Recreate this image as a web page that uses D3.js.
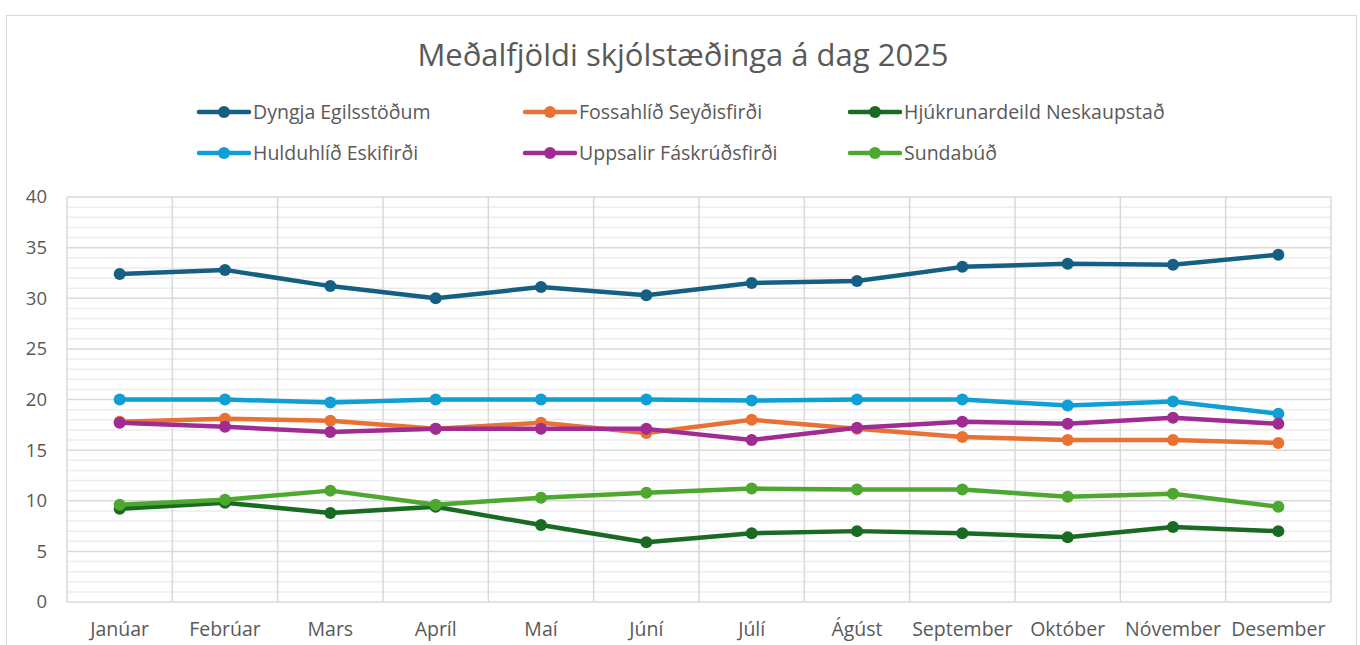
<!DOCTYPE html>
<html>
<head>
<meta charset="utf-8">
<script src="https://cdn.jsdelivr.net/npm/d3@7"></script>
<style>
    body { margin: 0; background: #fff; }
    svg { display: block; font-family: "Open Sans", sans-serif; }
</style>
</head>
<body>
<svg id="chart" width="1360" height="645"></svg>
<script>
// gögn
const months = ["Janúar", "Febrúar", "Mars", "Apríl", "Maí", "Júní", "Júlí", "Ágúst", "September", "Október", "Nóvember", "Desember"];
const seriesNames = ["Dyngja Egilsstöðum", "Fossahlíð Seyðisfirði", "Hjúkrunardeild Neskaupstað", "Hulduhlíð Eskifirði", "Uppsalir Fáskrúðsfirði", "Sundabúð"];
const seriesColors = ["#156082", "#e97132", "#196b24", "#0f9ed5", "#a02b93", "#4ea72e"];
const dyngja = [32.4, 32.8, 31.2, 30.0, 31.1, 30.3, 31.5, 31.7, 33.1, 33.4, 33.3, 34.3];
const fossahlid = [17.8, 18.1, 17.9, 17.1, 17.7, 16.7, 18.0, 17.1, 16.3, 16.0, 16.0, 15.7];
const hjukrunardeild = [9.2, 9.8, 8.8, 9.4, 7.6, 5.9, 6.8, 7.0, 6.8, 6.4, 7.4, 7.0];
const hulduhlid = [20.0, 20.0, 19.7, 20.0, 20.0, 20.0, 19.9, 20.0, 20.0, 19.4, 19.8, 18.6];
const uppsalir = [17.7, 17.3, 16.8, 17.1, 17.1, 17.1, 16.0, 17.2, 17.8, 17.6, 18.2, 17.6];
const sundabud = [9.6, 10.1, 11.0, 9.6, 10.3, 10.8, 11.2, 11.1, 11.1, 10.4, 10.7, 9.4];
const yTicks = [0, 5, 10, 15, 20, 25, 30, 35, 40];

const allValues = [dyngja, fossahlid, hjukrunardeild, hulduhlid, uppsalir, sundabud];

const svg = d3.select("#chart");
const TEXT_COLOR = "#595959";
const plot = { left: 67, right: 1331, top: 197, bottom: 602 };

// rammi
svg.append("rect")
    .attr("x", 6.5).attr("y", 15.5)
    .attr("width", 1350).attr("height", 650)
    .attr("fill", "#fff")
    .attr("stroke", "#d9d9d9")
    .attr("stroke-width", 1);

const x = d3.scaleBand().domain(months).range([plot.left, plot.right]).padding(0);
const y = d3.scaleLinear().domain([0, 40]).range([plot.bottom, plot.top]);

// minni hnitalínur
const g = svg.append("g");
g.selectAll("line.minor")
    .data(d3.range(0, 41).filter(v => v % 5 !== 0))
    .join("line")
    .attr("class", "minor")
    .attr("x1", plot.left).attr("x2", plot.right)
    .attr("y1", d => y(d)).attr("y2", d => y(d))
    .attr("stroke", "#ededed")
    .attr("stroke-width", 1.5);

// lóðréttar línur
g.selectAll("line.vert")
    .data(months.map(m => x(m)).concat([plot.right]))
    .join("line")
    .attr("class", "vert")
    .attr("x1", d => d).attr("x2", d => d)
    .attr("y1", plot.top).attr("y2", plot.bottom)
    .attr("stroke", "#d9d9d9")
    .attr("stroke-width", 1.5);

// aðal hnitalínur
g.selectAll("line.major")
    .data(yTicks)
    .join("line")
    .attr("class", "major")
    .attr("x1", plot.left).attr("x2", plot.right)
    .attr("y1", d => y(d)).attr("y2", d => y(d))
    .attr("stroke", "#d9d9d9")
    .attr("stroke-width", 1.5);

// y ás
const yAxis = svg.append("g")
    .attr("transform", `translate(${plot.left - 20},0)`)
    .call(d3.axisLeft(y).tickValues(yTicks).tickSize(0).tickPadding(0));
yAxis.select(".domain").remove();
yAxis.selectAll("text")
    .attr("fill", TEXT_COLOR)
    .attr("font-size", 18.5)
    .attr("font-family", "Open Sans, sans-serif");

// x ás
const xAxis = svg.append("g")
    .attr("transform", `translate(0,${plot.bottom + 20})`)
    .call(d3.axisBottom(x).tickSize(0).tickPadding(0));
xAxis.select(".domain").remove();
xAxis.selectAll("text")
    .attr("fill", TEXT_COLOR)
    .attr("font-size", 19.5)
    .attr("font-family", "Open Sans, sans-serif");

// línur
const line = d3.line()
    .x((d, i) => x(months[i]) + x.bandwidth() / 2)
    .y(d => y(d));

allValues.forEach((vals, k) => {
    const s = svg.append("g");
    s.append("path")
        .datum(vals)
        .attr("d", line)
        .attr("fill", "none")
        .attr("stroke", seriesColors[k])
        .attr("stroke-width", 4.5)
        .attr("stroke-linejoin", "round");
    s.selectAll("circle")
        .data(vals)
        .join("circle")
        .attr("cx", (d, i) => x(months[i]) + x.bandwidth() / 2)
        .attr("cy", d => y(d))
        .attr("r", 6)
        .attr("fill", seriesColors[k]);
});

// titill
svg.append("text")
    .attr("x", 683).attr("y", 66)
    .attr("text-anchor", "middle")
    .attr("fill", TEXT_COLOR)
    .attr("font-size", 31)
    .text("Meðalfjöldi skjólstæðinga á dag 2025");

// skýringar
const legendCols = [199, 525, 850];
const legendRows = [112, 153];
seriesNames.forEach((name, i) => {
    const lx = legendCols[i % 3];
    const ly = legendRows[Math.floor(i / 3)];
    const lg = svg.append("g").attr("transform", `translate(${lx},${ly})`);
    lg.append("line")
        .attr("x1", 0).attr("x2", 50)
        .attr("stroke", seriesColors[i])
        .attr("stroke-width", 4.5)
        .attr("stroke-linecap", "round");
    lg.append("circle").attr("cx", 25).attr("r", 6).attr("fill", seriesColors[i]);
    lg.append("text")
        .attr("x", 54).attr("y", 7)
        .attr("fill", TEXT_COLOR)
        .attr("font-size", 19.5)
        .text(name);
});
</script>
</body>
</html>
